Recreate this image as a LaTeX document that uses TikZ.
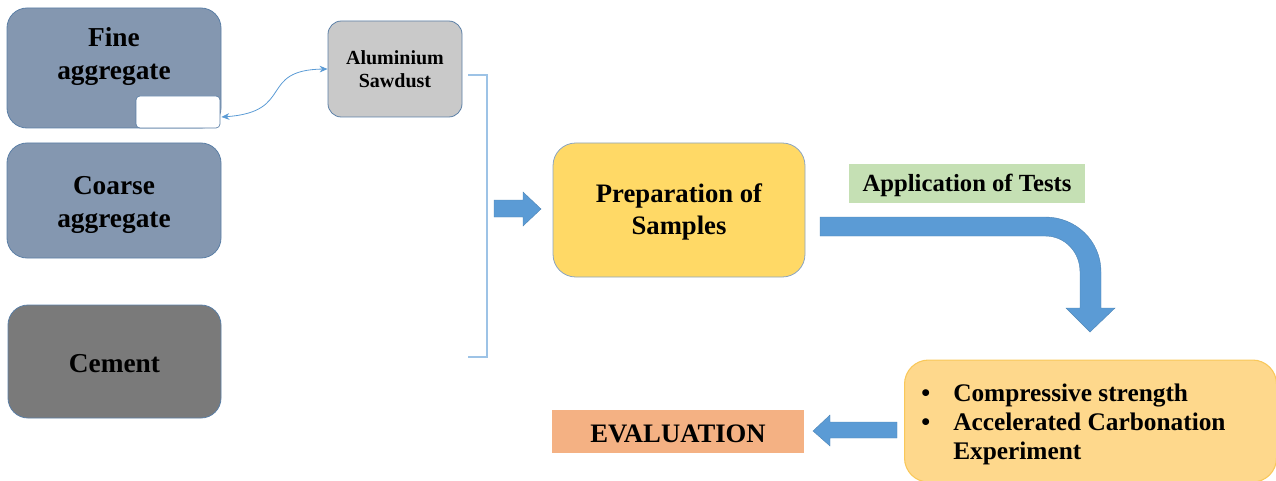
\documentclass[tikz,border=0pt]{standalone}
\usepackage{fontspec}
\setmainfont{Liberation Serif}
\usetikzlibrary{arrows.meta,calc}
\definecolor{slate}{HTML}{8497B0}
\definecolor{edgeblue}{HTML}{5B7FA6}
\definecolor{cementgray}{HTML}{7A7A7A}
\definecolor{alugray}{HTML}{C9C9C9}
\definecolor{prepyellow}{HTML}{FFD966}
\definecolor{testgreen}{HTML}{C5E0B4}
\definecolor{evalorange}{HTML}{F4B183}
\definecolor{arrowblue}{HTML}{5B9BD5}
\definecolor{resfill}{HTML}{FED88C}
\definecolor{resedge}{HTML}{F9C85A}
\definecolor{bracketblue}{HTML}{9DC3E6}
\tikzset{
  matbox/.style={draw=edgeblue, line width=0.6pt, rounded corners=15pt, inner sep=0pt},
  bigtext/.style={font=\fontsize{20.5}{24.75}\selectfont\bfseries, align=center, text=black},
  blockarrow/.style={fill=arrowblue, draw=arrowblue!85!black, line width=0.3pt},
}
\begin{document}
\begin{tikzpicture}[x=0.75pt,y=-0.75pt]
\useasboundingbox (0,0) rectangle (1276,481);
% left material boxes
\node[matbox, fill=slate, minimum width=160.5pt, minimum height=90pt] (fine) at (114,68) {};
\node[bigtext] (finetxt) at (114,57) {Fine\\aggregate};
\node[fill=white, draw=edgeblue, line width=0.5pt, rounded corners=3pt, minimum width=63pt, minimum height=24pt, inner sep=0pt] (white) at (178,112) {};
\node[matbox, fill=slate, minimum width=160.5pt, minimum height=86.25pt] (coarse) at (114,200.5) {};
\node[bigtext] (coarsetxt) at (114,205) {Coarse\\aggregate};
\node[matbox, fill=cementgray, minimum width=159.75pt, minimum height=84.75pt] (cement) at (114.5,361.5) {};
\node[bigtext] (cementtxt) at (114.5,364) {Cement};
% aluminium sawdust
\node[draw=edgeblue, line width=0.6pt, fill=alugray, rounded corners=10pt, minimum width=100.5pt, minimum height=72pt, inner sep=0pt,
      font=\fontsize{15}{17.25}\selectfont\bfseries, align=center] (alu) at (395,69) {Aluminium\\Sawdust};
\draw[arrowblue, line width=0.6pt, {Stealth[length=6pt,width=5pt]}-{Stealth[length=6pt,width=5pt]}]
  ($(white.east)+(1,5)$) .. controls (295,112) and (258,70) .. (alu.west);
% bracket
\coordinate (bt) at (468,75);
\coordinate (bb) at (468,357);
\draw[bracketblue, line width=0.8pt] (bt) -- (487,75) -- (487,357) -- (bb);
% right block arrow
\draw[blockarrow] (494,200) -- (523,200) -- (523,192) -- (541,209) -- (523,226) -- (523,217) -- (494,217) -- cycle;
% preparation
\node[draw=edgeblue!70, line width=0.6pt, fill=prepyellow, rounded corners=17pt, minimum width=189pt, minimum height=100.5pt, inner sep=0pt] (prep) at (679,210) {};
\node[font=\fontsize{20}{24}\selectfont\bfseries, align=center] (preptxt) at (679,212) {Preparation of\\Samples};
% application of tests
\node[fill=testgreen, minimum width=177pt, minimum height=29.25pt, inner sep=0pt] (app) at (967,183.5) {};
\node[font=\fontsize{18.5}{22}\selectfont\bfseries] (apptxt) at (967,185.5) {Application of Tests};
% curved block arrow
\draw[blockarrow] (820,217) -- (1045,217) .. controls (1076,217) and (1101,241) .. (1101,272) -- (1101,308) -- (1115,308) -- (1090,332)
  -- (1066,308) -- (1080,308) -- (1080,272) .. controls (1080,252) and (1065,236) .. (1045,236) -- (820,236) -- cycle;
% results box
\node[draw=resedge, line width=0.8pt, fill=resfill, rounded corners=18pt, minimum width=279pt, minimum height=91.5pt, inner sep=0pt, anchor=north west] (res) at (904,359.5) {};
\tikzset{listtext/.style={font=\fontsize{19}{21.75}\selectfont\bfseries, anchor=base west, inner sep=0pt}}
\node[listtext] (b1) at (921,401) {\textbullet};
\node[listtext] (l1) at (953,401) {Compressive strength};
\node[listtext] (b2) at (921,430.5) {\textbullet};
\node[listtext] (l2) at (953,430.5) {Accelerated Carbonation};
\node[listtext] (l3) at (953,459.5) {Experiment};
% left block arrow
\draw[blockarrow] (897,422) -- (830,422) -- (830,415) -- (813,431) -- (830,446) -- (830,438) -- (897,438) -- cycle;
% evaluation
\node[fill=evalorange, minimum width=189pt, minimum height=32.25pt, inner sep=0pt] (eval) at (678,431.5) {};
\node[font=\fontsize{20}{24}\selectfont\bfseries] (evaltxt) at (678,433.5) {EVALUATION};
\end{tikzpicture}
\end{document}
